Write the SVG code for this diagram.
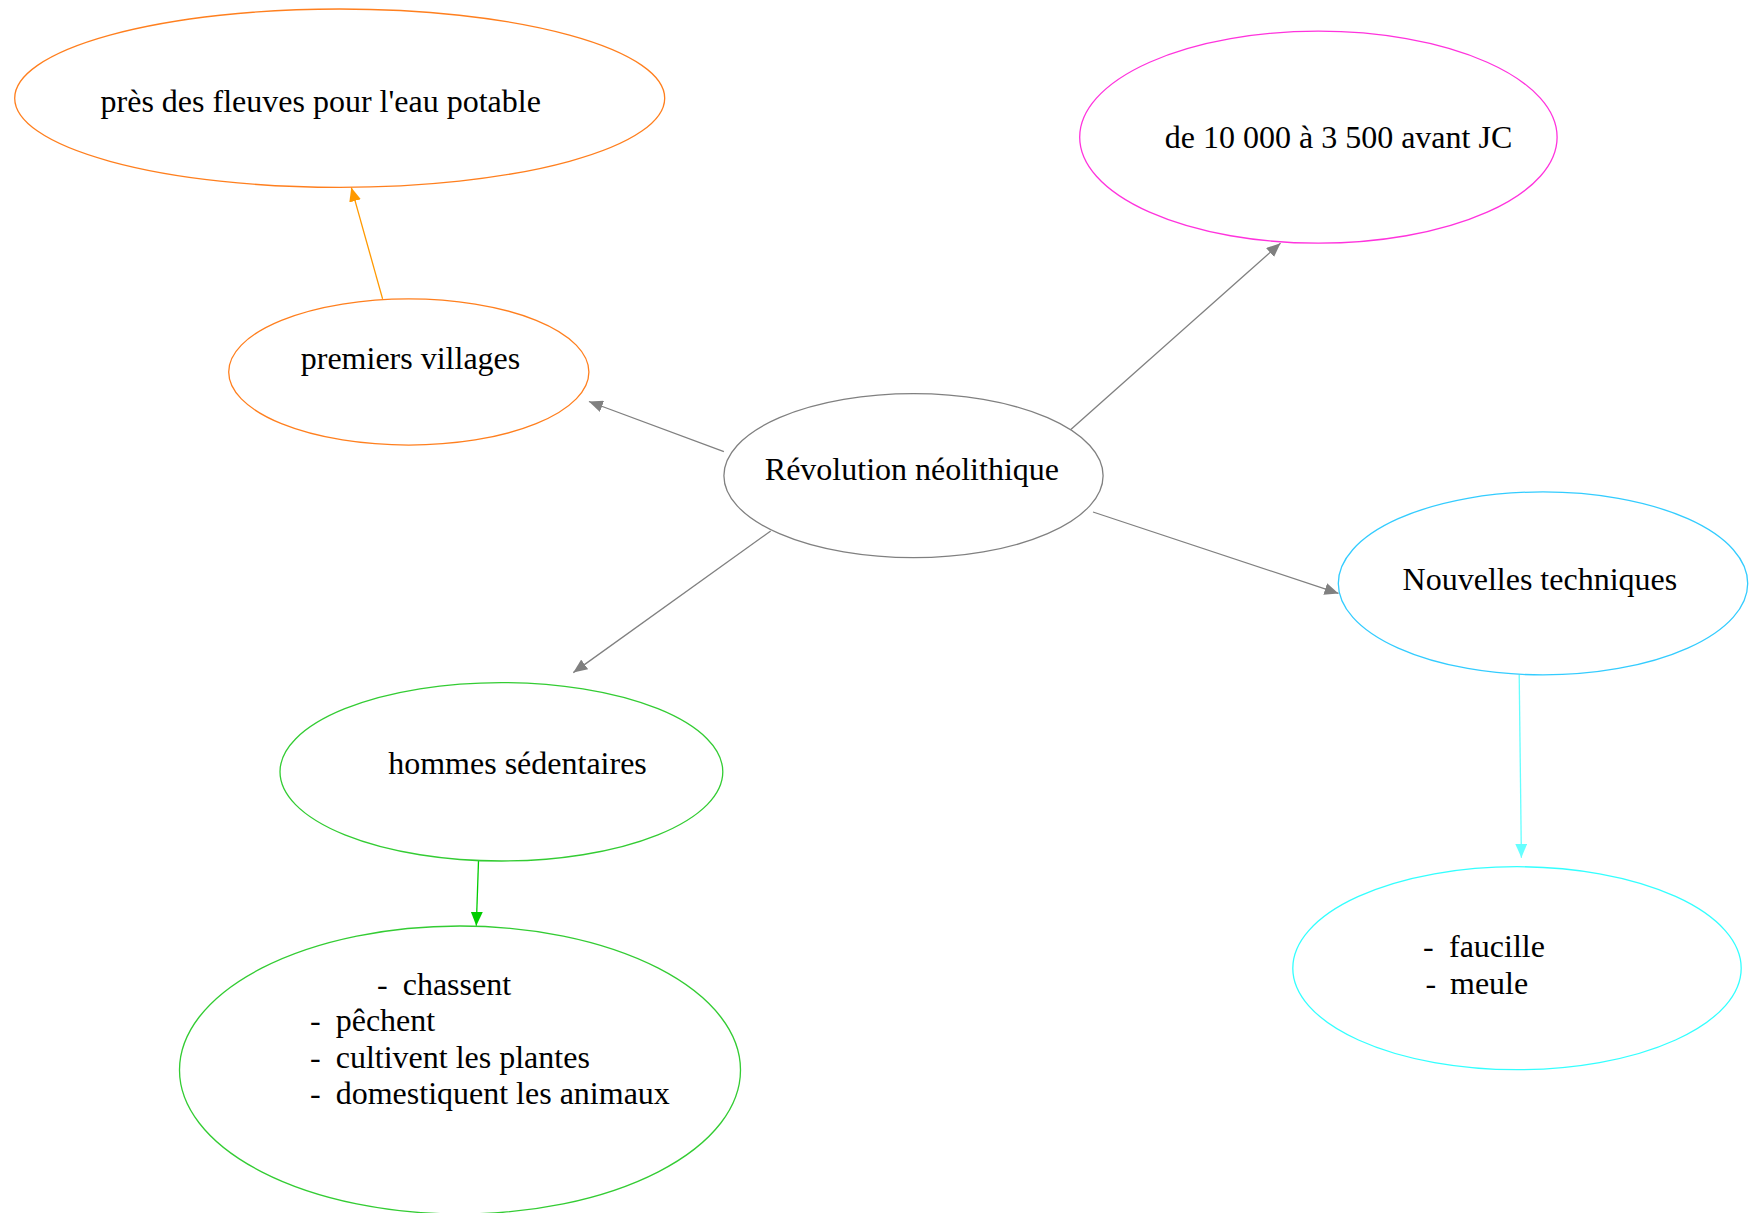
<svg xmlns="http://www.w3.org/2000/svg" width="1749" height="1213" viewBox="0 0 1749 1213">
<style>
text{font-family:"Liberation Serif","Times New Roman",serif;font-size:32px;fill:#000}
ellipse{fill:#fff;stroke-width:1.3}
line{stroke-width:1.3}
.c{text-anchor:middle}
</style>
<defs>
<marker id="ag" markerUnits="userSpaceOnUse" markerWidth="16" markerHeight="12" refX="14" refY="6" orient="auto"><path d="M0,0 L14,6 L0,12 Z" fill="#808080"/></marker>
<marker id="ao" markerUnits="userSpaceOnUse" markerWidth="16" markerHeight="12" refX="14" refY="6" orient="auto"><path d="M0,0 L14,6 L0,12 Z" fill="#ff9900"/></marker>
<marker id="agr" markerUnits="userSpaceOnUse" markerWidth="16" markerHeight="12" refX="14" refY="6" orient="auto"><path d="M0,0 L14,6 L0,12 Z" fill="#00cc00"/></marker>
<marker id="ac" markerUnits="userSpaceOnUse" markerWidth="16" markerHeight="12" refX="14" refY="6" orient="auto"><path d="M0,0 L14,6 L0,12 Z" fill="#66ffff"/></marker>
</defs>
<rect width="1749" height="1213" fill="#fff"/>
<g id="connectors">
<line x1="382.6" y1="298.9" x2="351.3" y2="187.4" stroke="#ff9900" marker-end="url(#ao)"/>
<line x1="723.9" y1="451.7" x2="588.9" y2="401.5" stroke="#808080" marker-end="url(#ag)"/>
<line x1="1070.8" y1="429.4" x2="1280.5" y2="243.2" stroke="#808080" marker-end="url(#ag)"/>
<line x1="1093" y1="512" x2="1338.5" y2="593.4" stroke="#808080" marker-end="url(#ag)"/>
<line x1="770.7" y1="531" x2="573.3" y2="672.6" stroke="#808080" marker-end="url(#ag)"/>
<line x1="478.5" y1="861" x2="476.3" y2="925.8" stroke="#00cc00" marker-end="url(#agr)"/>
<line x1="1519.2" y1="674.8" x2="1521.4" y2="857.7" stroke="#66ffff" marker-end="url(#ac)"/>
</g>
<g id="n_fleuves">
<ellipse cx="339.7" cy="98.2" rx="325" ry="89.2" stroke="#ff7f1e"/>
<text x="320.7" y="111.5" class="c">près des fleuves pour l'eau potable</text>
</g>
<g id="n_dates">
<ellipse cx="1318.4" cy="137.2" rx="238.7" ry="106" stroke="#ff33dd"/>
<text x="1338.5" y="148" class="c">de 10 000 à 3 500 avant JC</text>
</g>
<g id="n_villages">
<ellipse cx="408.8" cy="372" rx="180.1" ry="73.1" stroke="#ff7f1e"/>
<text x="410.5" y="369" class="c">premiers villages</text>
</g>
<g id="n_revolution">
<ellipse cx="913.5" cy="475.7" rx="189.6" ry="82" stroke="#808080"/>
<text x="911.9" y="479.6" class="c">Révolution néolithique</text>
</g>
<g id="n_techniques">
<ellipse cx="1543" cy="583.4" rx="204.7" ry="91.5" stroke="#33ccff"/>
<text x="1539.9" y="590" class="c">Nouvelles techniques</text>
</g>
<g id="n_sedentaires">
<ellipse cx="501.4" cy="771.8" rx="221.4" ry="89.2" stroke="#33cc33"/>
<text x="517.5" y="774" class="c">hommes sédentaires</text>
</g>
<g id="n_activites">
<ellipse cx="460" cy="1070" rx="280.5" ry="144" stroke="#33cc33"/>
<text y="995"><tspan x="377">-</tspan><tspan x="402.7">chassent</tspan></text>
<text y="1031"><tspan x="310">-</tspan><tspan x="335.7">pêchent</tspan></text>
<text y="1067.5"><tspan x="310">-</tspan><tspan x="335.7">cultivent les plantes</tspan></text>
<text y="1104.2"><tspan x="310">-</tspan><tspan x="335.7">domestiquent les animaux</tspan></text>
</g>
<g id="n_outils">
<ellipse cx="1517" cy="968.2" rx="224.2" ry="101.5" stroke="#33ffff"/>
<text y="957"><tspan x="1423">-</tspan><tspan x="1449">faucille</tspan></text>
<text y="994"><tspan x="1425.5">-</tspan><tspan x="1450">meule</tspan></text>
</g>
</svg>
